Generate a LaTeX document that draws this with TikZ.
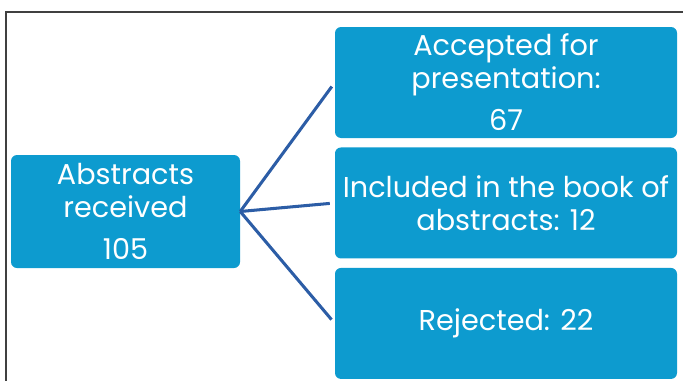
\documentclass[tikz,border=0pt]{standalone}
\usepackage{fontspec}
\setmainfont{Poppins}
\usepackage{tikz}
\usetikzlibrary{positioning}
\definecolor{boxblue}{HTML}{0D9BCF}
\definecolor{linkblue}{HTML}{2C5DA6}
\tikzstyle{box} = [rectangle, rounded corners=0.18cm, fill=boxblue, text=white, text centered, align=center, font=\fontsize{24.5}{28}\selectfont, inner sep=0pt]
\tikzstyle{leftbox} = [box, minimum width=6.87cm, minimum height=3.39cm]
\tikzstyle{rightbox} = [box, minimum width=10.26cm, minimum height=3.33cm]
\tikzstyle{branch} = [linkblue, line width=2.6pt, shorten >=0.15cm]

\begin{document}
\begin{tikzpicture}[node distance=0.27cm]
	\useasboundingbox (0,0) rectangle (20.49,-11.43);
	\draw [black!75, line width=1.5pt] (0.18,-11.43) |- (20.49,-0.36);
	\node (recv) [leftbox] at (3.765,-6.345) {Abstracts\\received\\[8pt]105};
	\node (acc) [rightbox] at (15.18,-2.475) {Accepted for\\presentation:\\[8pt]67};
	\node (incl) [rightbox, below=of acc] {Included in the book of\\abstracts: 12};
	\node (rej) [rightbox, below=of incl] {Rejected: 22};
	\draw [branch] (recv.east) -- (acc.west);
	\draw [branch] (recv.east) -- (incl.west);
	\draw [branch] (recv.east) -- (rej.west);
\end{tikzpicture}
\end{document}
